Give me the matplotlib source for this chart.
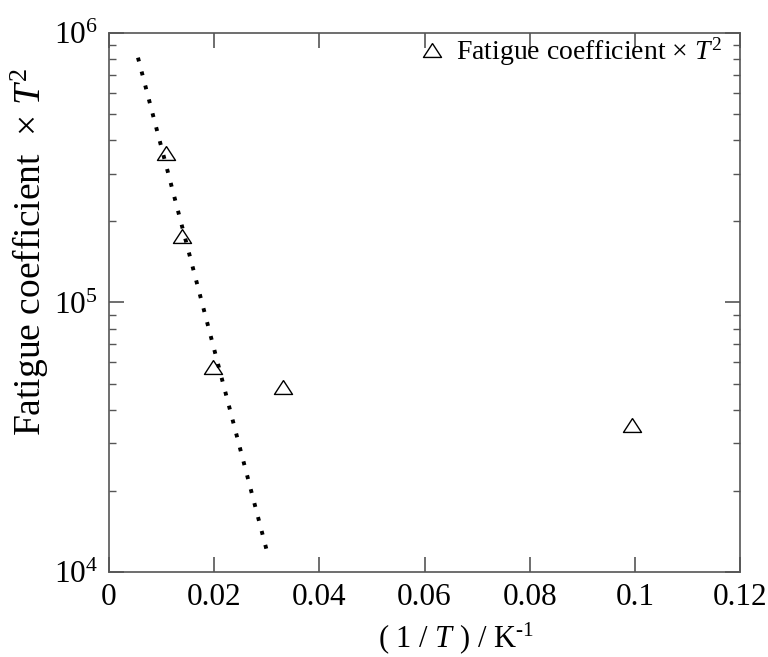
import matplotlib
matplotlib.use("Agg")
import matplotlib.pyplot as plt
import numpy as np

plt.rcParams["font.family"] = ["Liberation Serif", "DejaVu Serif"]
plt.rcParams["mathtext.fontset"] = "custom"
plt.rcParams["mathtext.rm"] = "Liberation Serif"
plt.rcParams["mathtext.it"] = "Liberation Serif:italic"

# measured points
inv_T = [0.0108, 0.0139, 0.0198, 0.0331, 0.0995]
coef_T2 = [3.6e5, 1.77e5, 5.75e4, 4.85e4, 3.5e4]

# fitted line (exponential in 1/T)
fit_x = [0.0055, 0.0300]
fit_y = [8.1e5, 1.2e4]

fig = plt.figure(figsize=(7.68, 6.57), dpi=100)
ax = fig.add_axes([0.142, 0.1294, 0.8215, 0.8204])

spine_col = "#555555"
tri = [(0, 1), (-1.3, -1), (1.3, -1), (0, 1)]

ax.plot(fit_x, fit_y, color="black", linewidth=2.8, linestyle=(0, (1.0, 2.7)),
        dash_capstyle="butt")
ax.plot(inv_T, coef_T2, linestyle="none", marker=tri, markersize=13,
        markerfacecolor="none", markeredgecolor="black", markeredgewidth=1.0,
        label=r"Fatigue coefficient $\times$ $T^2$")

ax.set_yscale("log")
ax.set_xlim(0, 0.12)
ax.set_ylim(1e4, 1e6)
ax.set_xticks(np.arange(0, 0.121, 0.02))
ax.set_xticklabels(["0", "0.02", "0.04", "0.06", "0.08", "0.1", "0.12"])

for s in ax.spines.values():
    s.set_color(spine_col)
    s.set_linewidth(1.2)

ax.tick_params(which="both", direction="in", top=True, right=True,
               color=spine_col, labelsize=22.5)
ax.tick_params(which="major", length=11, width=1.2, pad=8)
ax.tick_params(which="minor", length=5, width=1.0)
ax.tick_params(axis="x", which="minor", bottom=False, top=False)

ax.set_xlabel(r"( 1 / $T$ ) / K$^{\text{-}1}$", fontsize=22)
ax.set_ylabel(r"Fatigue coefficient  $\times$ $T^2$", fontsize=27)
ax.xaxis.set_label_coords(0.55, -0.089)
ax.yaxis.set_label_coords(-0.092, 0.594)

leg = ax.legend(loc="upper right", bbox_to_anchor=(0.9715, 0.996),
                frameon=False, fontsize=20, borderpad=0, borderaxespad=0,
                handletextpad=0.35, handlelength=1.0)

fig.savefig("out.png", dpi=100)
